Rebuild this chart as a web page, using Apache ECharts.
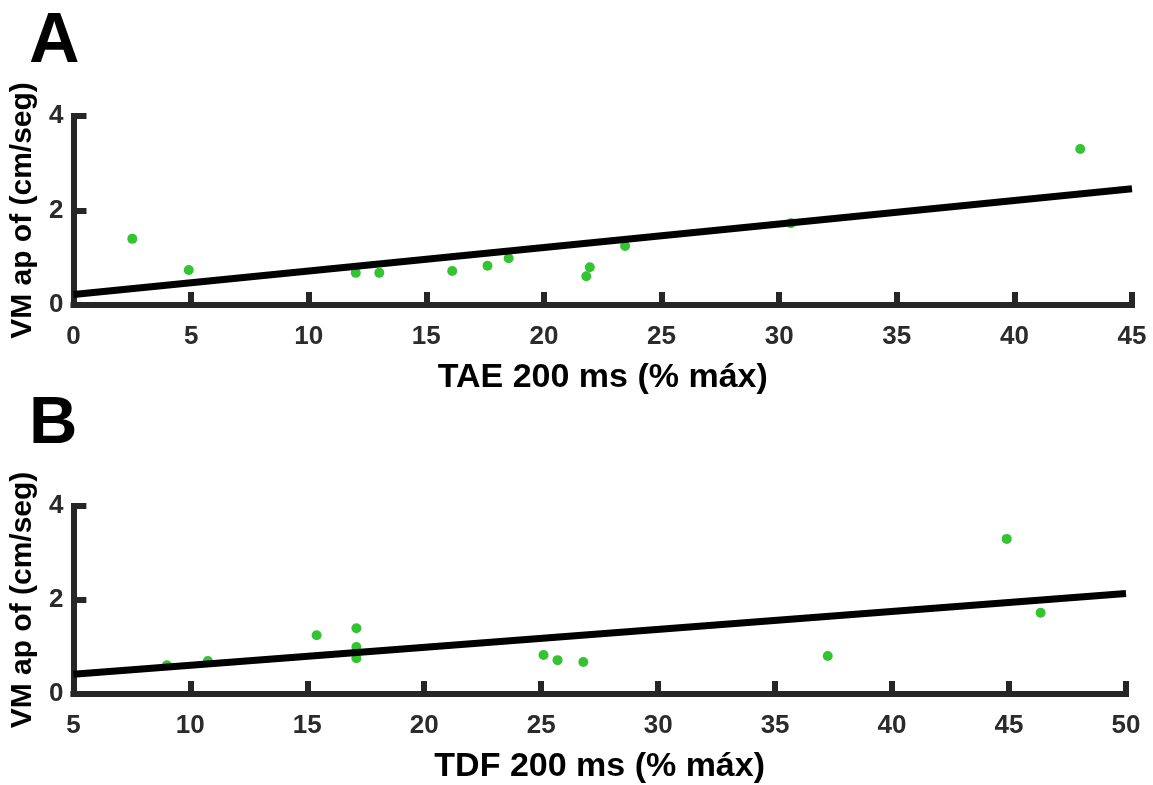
<!DOCTYPE html>
<html>
<head>
<meta charset="utf-8">
<script src="https://cdn.jsdelivr.net/npm/echarts@6/dist/echarts.min.js"></script>
<style>
html,body{margin:0;padding:0;background:#fff;}
#chart{width:1153px;height:785px;}
</style>
</head>
<body>
<div id="chart"></div>
<script>
// Panel A: TAE 200 ms (% máx) vs VM ap of
const taeX = [2.5, 4.9, 12.0, 13.0, 16.1, 17.6, 18.5, 21.8, 21.95, 23.45, 30.5, 42.8];
const taeY = [1.40, 0.74, 0.68, 0.68, 0.72, 0.83, 0.99, 0.61, 0.80, 1.25, 1.73, 3.30];
const fitAX = [0, 45];
const fitAY = [0.22, 2.46];

// Panel B: TDF 200 ms (% máx) vs VM ap of
const tdfX = [9.0, 10.75, 15.4, 17.1, 17.1, 17.1, 25.1, 25.7, 26.8, 37.25, 44.9, 46.35];
const tdfY = [0.61, 0.70, 1.25, 1.40, 1.00, 0.76, 0.83, 0.72, 0.68, 0.81, 3.30, 1.73];
const fitBX = [5, 50];
const fitBY = [0.42, 2.14];

const xNameA = 'TAE 200 ms (% máx)';
const xNameB = 'TDF 200 ms (% máx)';
const yName = 'VM ap of (cm/seg)';
const panelLabels = ['A', 'B'];

const FONT = '"Liberation Sans", Arial, sans-serif';
const AXIS_COLOR = '#262626';
const DOT_COLOR = '#00b400';

function pairs(xs, ys) { return xs.map((x, i) => [x, ys[i]]); }

function xAxisCfg(idx, min, max, name) {
  return {
    type: 'value', gridIndex: idx, min: min, max: max, interval: 5,
    name: name, nameLocation: 'middle', nameGap: 56,
    nameTextStyle: { fontFamily: FONT, fontWeight: 'bold', fontSize: 34, color: '#000' },
    axisLine: { show: true, onZero: false, lineStyle: { color: AXIS_COLOR, width: 6, cap: 'square' } },
    axisTick: { show: true, inside: true, length: 13, lineStyle: { color: AXIS_COLOR, width: 6 } },
    axisLabel: { fontFamily: FONT, fontWeight: 'bold', fontSize: 26, color: '#2b2b2b', margin: 19 },
    splitLine: { show: false }
  };
}
function yAxisCfg(idx) {
  return {
    type: 'value', gridIndex: idx, min: 0, max: 4, interval: 2,
    name: yName, nameLocation: 'middle', nameGap: 27,
    nameTextStyle: { fontFamily: FONT, fontWeight: 'bold', fontSize: 30, color: '#000' },
    axisLine: { show: true, onZero: false, lineStyle: { color: AXIS_COLOR, width: 6, cap: 'square' } },
    axisTick: { show: true, inside: true, length: 13, lineStyle: { color: AXIS_COLOR, width: 6 } },
    axisLabel: { fontFamily: FONT, fontWeight: 'bold', fontSize: 26, color: '#2b2b2b', margin: 10 },
    splitLine: { show: false }
  };
}

const chart = echarts.init(document.getElementById('chart'), null, { renderer: 'canvas' });
chart.setOption({
  backgroundColor: '#fff',
  animation: false,
  graphic: [
    { type: 'text', left: 29, top: 8, style: { text: panelLabels[0], font: 'bold 70px ' + FONT, fill: '#000' } },
    { type: 'text', left: 29, top: 391, style: { text: panelLabels[1], font: 'bold 67px ' + FONT, fill: '#000' } }
  ],
  grid: [
    { left: 73.5, right: 1153 - 1132, top: 116, height: 189 },
    { left: 68.5, right: 1153 - 1126, top: 506, height: 189 }
  ],
  xAxis: [xAxisCfg(0, 0, 45, xNameA), xAxisCfg(1, 5, 50, xNameB)],
  yAxis: [yAxisCfg(0), yAxisCfg(1)],
  series: [
    { type: 'scatter', xAxisIndex: 0, yAxisIndex: 0, data: pairs(taeX, taeY), symbolSize: 10,
      itemStyle: { color: DOT_COLOR }, z: 2 },
    { type: 'line', xAxisIndex: 0, yAxisIndex: 0, data: pairs(fitAX, fitAY), symbol: 'none',
      lineStyle: { color: '#000', width: 7 }, z: 3 },
    { type: 'scatter', xAxisIndex: 1, yAxisIndex: 1, data: pairs(tdfX, tdfY), symbolSize: 10,
      itemStyle: { color: DOT_COLOR }, z: 2 },
    { type: 'line', xAxisIndex: 1, yAxisIndex: 1, data: pairs(fitBX, fitBY), symbol: 'none',
      lineStyle: { color: '#000', width: 7 }, z: 3 }
  ]
});
</script>
</body>
</html>
